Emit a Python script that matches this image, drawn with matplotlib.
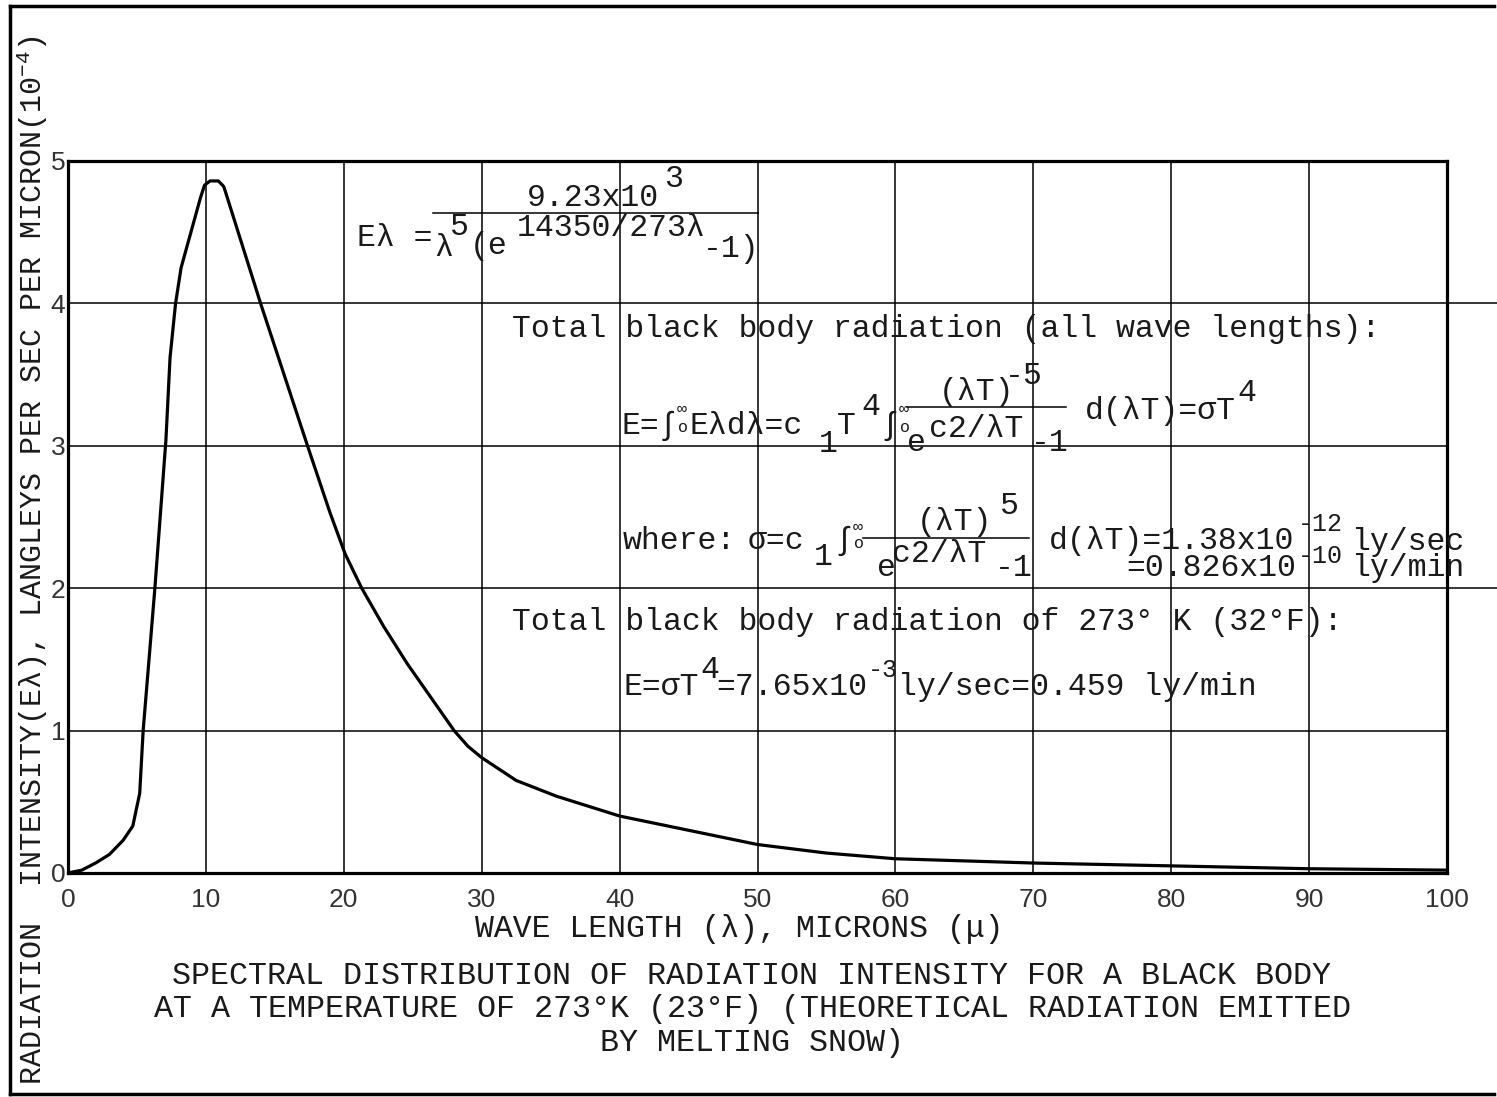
"""
Black body spectral distribution at 273 K (melting snow), redrawn from a
typewritten scan: thick curve on a coarse grid, equations typed in as text.
"""
import matplotlib
matplotlib.use("Agg")
import matplotlib.pyplot as plt
from matplotlib.lines import Line2D

W, H = 1497, 1097
MONO = ["Liberation Mono", "DejaVu Sans Mono"]
SANS = ["Liberation Sans", "DejaVu Sans"]
FS = 22.7

plt.rcParams["mathtext.fontset"] = "custom"
plt.rcParams["mathtext.rm"] = "Liberation Mono"
plt.rcParams["mathtext.default"] = "rm"

# curve (E-lambda in units of 1e-4 langleys/sec/micron)
WAVELENGTH = [0, 0.5, 1, 2, 3, 4, 4.7, 5.2, 5.45, 6.3, 7.1, 7.4, 7.8, 8.2,
              9.0, 9.6, 9.9, 10.3, 10.9, 11.3, 14.0, 17.3, 19.0, 20.1, 21.3,
              22.9, 24.6, 28.0, 29.0, 30.0, 32.5, 35.4, 40, 44.5, 50, 55, 60,
              70, 80, 90, 100]
INTENSITY = [0, 0.01, 0.02, 0.07, 0.13, 0.23, 0.33, 0.56, 1.0, 2.0, 3.04,
             3.62, 4.0, 4.25, 4.53, 4.74, 4.83, 4.86, 4.86, 4.82, 3.99, 3.02,
             2.53, 2.24, 2.0, 1.73, 1.47, 1.0, 0.89, 0.81, 0.65, 0.54, 0.40,
             0.31, 0.20, 0.14, 0.10, 0.07, 0.05, 0.03, 0.02]

X_TICKS = [0, 10, 20, 30, 40, 50, 60, 70, 80, 90, 100]
Y_TICKS = [0, 1, 2, 3, 4, 5]
EXTENDED_GRID = [4, 2]   # rules that run on past the right edge in the scan

Y_LABEL = "RADIATION  INTENSITY(E\u03bb), LANGLEYS PER SEC PER MICRON(10$^{-4}$)"
X_LABEL = "WAVE LENGTH (\u03bb), MICRONS (\u03bc)"
CAPTION = [
    "SPECTRAL DISTRIBUTION OF RADIATION INTENSITY FOR A BLACK BODY",
    "AT A TEMPERATURE OF 273\u00b0K (23\u00b0F) (THEORETICAL RADIATION EMITTED",
    "BY MELTING SNOW)",
]

# typed equations: (left px, visual centre px, text); raised bits full size
PIECES = [
    (357, 237, "E\u03bb ="),
    (527, 197, "9.23x10"),
    (664, 178, "3"),
    (434, 247, "\u03bb"),
    (450, 226, "5"),
    (470, 245, "(e"),
    (517, 227, "14350/273\u03bb"),
    (703, 248, "-1)"),
    (512, 328, "Total black body radiation (all wave lengths):"),
    (621, 425, "E=\u222b"),
    (690, 425, "E\u03bbd\u03bb=c"),
    (819, 443, "1"),
    (837, 425, "T"),
    (861, 406, "4"),
    (880, 425, "\u222b"),
    (939, 391, "(\u03bbT)"),
    (1005, 375, "-5"),
    (907, 442, "e"),
    (929, 428, "c2/\u03bbT"),
    (1031, 442, "-1"),
    (1085, 410, "d(\u03bbT)=\u03c3T"),
    (1237, 392, "4"),
    (623, 540, "where:"),
    (748, 540, "\u03c3=c"),
    (814, 556, "1"),
    (834, 540, "\u222b"),
    (917, 521, "(\u03bbT)"),
    (1000, 505, "5"),
    (877, 567, "e"),
    (892, 553, "c2/\u03bbT"),
    (995, 567, "-1"),
    (1049, 540, "d(\u03bbT)=1.38x10"),
    (1352, 541, "ly/sec"),
    (1126, 567, "=0.826x10"),
    (1352, 567, "ly/min"),
    (512, 621, "Total black body radiation of 273\u00b0 K (32\u00b0F):"),
    (623, 686, "E=\u03c3T"),
    (700, 669, "4"),
    (716, 686, "=7.65x10"),
    (898, 686, "ly/sec=0.459 ly/min"),
]
# exponents that were squeezed in by the typist, set a touch smaller
TIGHT = [(1298, 524, "-12"), (1298, 556, "-10"), (868, 670, "-3")]
# integral limits typed small
LIMITS = [(677, 409, "\u221e"), (678, 427, "o"),
          (899, 409, "\u221e"), (900, 427, "o"),
          (853, 527, "\u221e"), (854, 543, "o")]
FRACTION_BARS = [(433, 758, 213), (907, 1066, 407), (863, 1029, 538)]


def fx(px):
    return px / W


def fy(py):
    return 1 - py / H


def put(px, py, s, size):
    # py is the visual middle of the capitals; baseline sits half a cap lower
    base = py + 0.29 * size * 100 / 72
    fig.text(fx(px), fy(base), s, ha="left", va="baseline", fontsize=size,
             family=MONO, color="#1a1a1a")


fig = plt.figure(figsize=(W / 100, H / 100), dpi=100)
ax = fig.add_axes([fx(68), fy(873), fx(1447) - fx(68), fy(161) - fy(873)])

ax.plot(WAVELENGTH, INTENSITY, color="black", lw=2.3, zorder=3,
        solid_joinstyle="round")
ax.set_xlim(0, 100)
ax.set_ylim(0, 5)
ax.set_xticks(X_TICKS)
ax.set_yticks(Y_TICKS)
ax.grid(True, color="black", lw=1.1)
for y in EXTENDED_GRID:
    ax.axhline(y, xmin=1, xmax=1.036, color="black", lw=1.1, clip_on=False)
for s in ax.spines.values():
    s.set_linewidth(2.3)
ax.tick_params(length=0, labelsize=19, labelcolor="#333333")
ax.tick_params(axis="x", pad=11)
ax.tick_params(axis="y", pad=2)
for lab in ax.get_xticklabels() + ax.get_yticklabels():
    lab.set_family(SANS)

for px, py, s in PIECES:
    put(px, py, s, FS)
for px, py, s in TIGHT:
    put(px, py, s, 18)
for px, py, s in LIMITS:
    fig.text(fx(px), fy(py), s, ha="left", va="center", fontsize=12,
             family=MONO, color="#1a1a1a")
for x0, x1, y in FRACTION_BARS:
    fig.add_artist(Line2D([fx(x0), fx(x1)], [fy(y), fy(y)], color="black",
                          lw=1.1, transform=fig.transFigure))

fig.text(fx(739), fy(929), X_LABEL, ha="center", va="center", fontsize=FS,
         family=MONO, color="#1a1a1a")
fig.text(fx(32), fy(560), Y_LABEL, ha="center", va="center", rotation=90,
         fontsize=21.6, family=MONO, color="#1a1a1a")
for i, line in enumerate(CAPTION):
    fig.text(fx(752), fy(976 + 33.5 * i), line, ha="center", va="center",
             fontsize=22.9, family=MONO, color="#1a1a1a")

# page frame around the whole figure
for xs, ys in [((10, 10), (6, 1094)), ((10, 1494), (6, 6)),
               ((10, 1494), (1094, 1094))]:
    fig.add_artist(Line2D([fx(x) for x in xs], [fy(y) for y in ys],
                          color="black", lw=2.5, transform=fig.transFigure))

fig.savefig("out.png", dpi=100)
